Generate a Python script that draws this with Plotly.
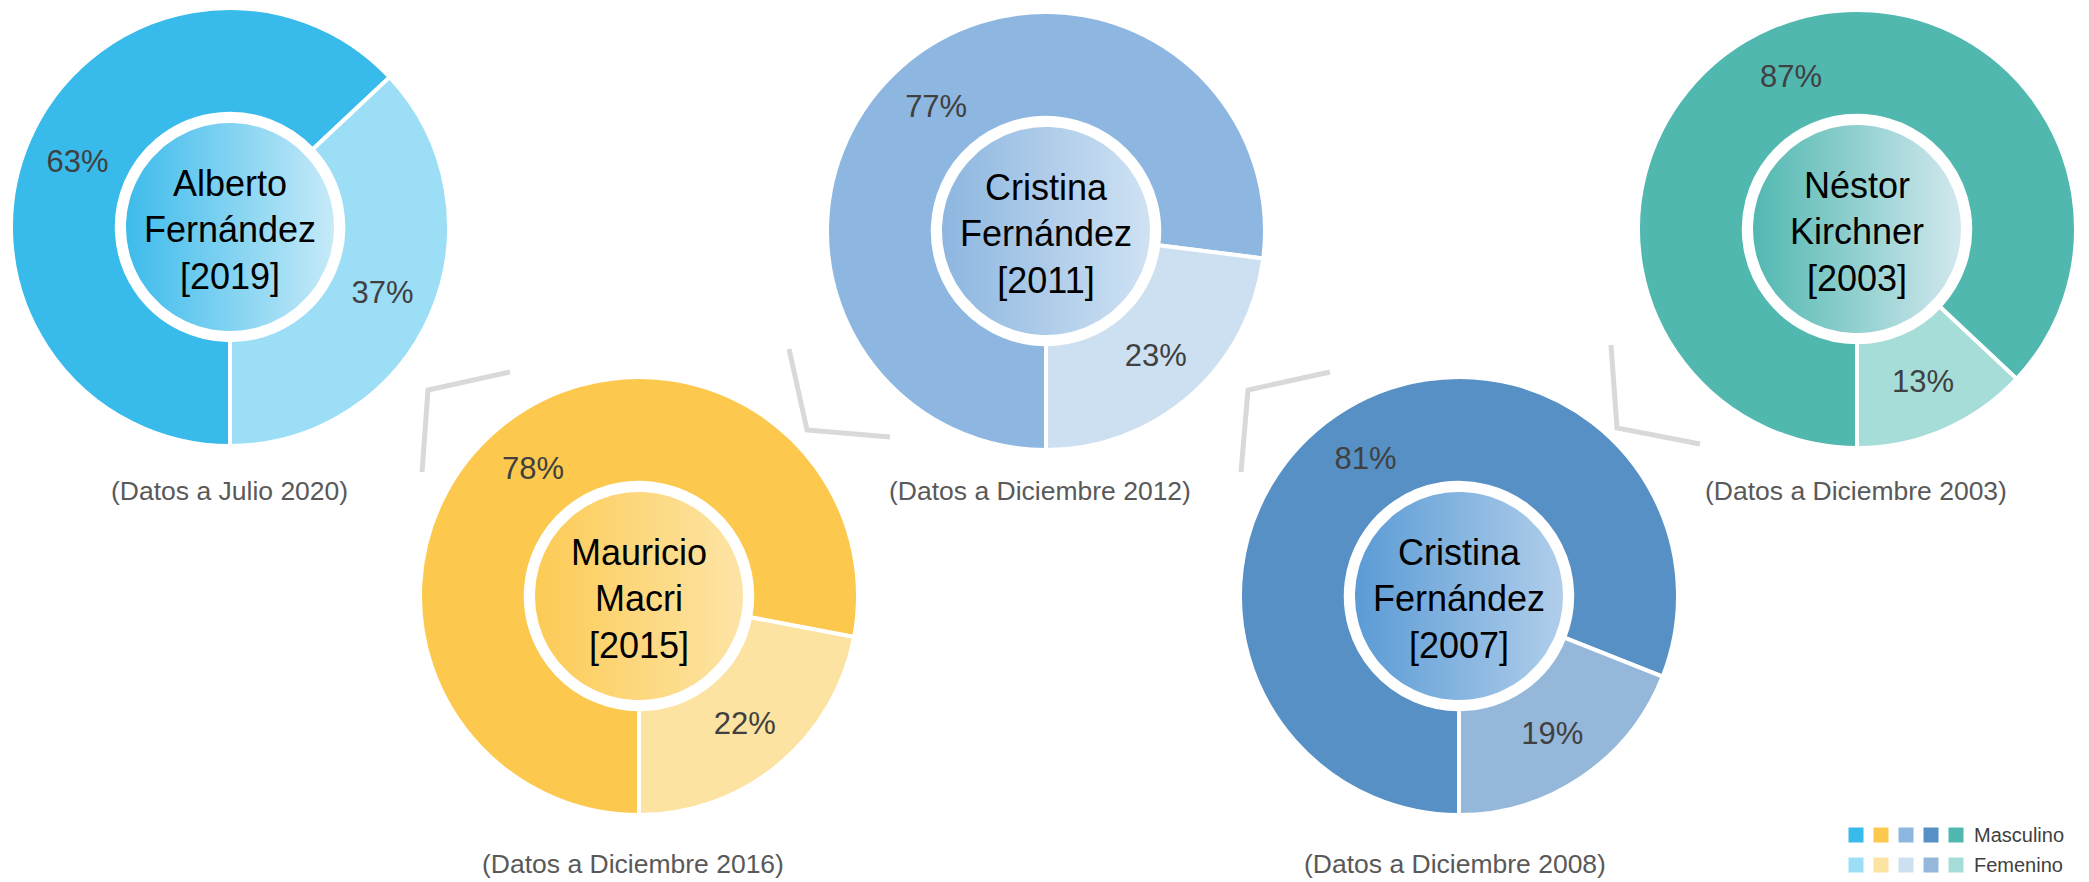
import plotly.graph_objects as go
import numpy as np

# ---------------- data ----------------
presidents = ["Alberto<br>Fernández", "Mauricio<br>Macri", "Cristina<br>Fernández",
              "Cristina<br>Fernández", "Néstor<br>Kirchner"]
years = ["2019", "2015", "2011", "2007", "2003"]
masculino = [63, 78, 77, 81, 87]
femenino = [37, 22, 23, 19, 13]
captions = ["(Datos a Julio 2020)", "(Datos a Diciembre 2016)", "(Datos a Diciembre 2012)",
            "(Datos a Diciembre 2008)", "(Datos a Diciembre 2003)"]
series_names = ["Masculino", "Femenino"]

# ---------------- styles / layout ----------------
W, H = 2089, 882
masc_colors = ["#38BAEB", "#FCC94E", "#8DB7E0", "#5690C5", "#51B8B0"]
fem_colors = ["#9DDEF7", "#FDE3A2", "#CDE0F2", "#95B8DA", "#A7DDD8"]
grad_colors = [("#3DBBEB", "#C6EAF8"), ("#FCCB55", "#FDE4A6"), ("#8DB6E0", "#CFE2F3"),
               ("#5B9BD5", "#B0CEEA"), ("#52B8B1", "#D2E8EE")]
centers = [(230, 227), (639, 596), (1046, 231), (1459, 596), (1857, 229)]
caption_pos = [(229, 491), (633, 864), (1040, 491), (1455, 864), (1856, 491)]
R = 219
HOLE = 0.517
R_INNER = 104
FONT = "Liberation Sans, Arial, sans-serif"

fig = go.Figure()

# connector chevrons (decorative)
chevrons = [
    [(510, 372), (428, 390), (422, 472)],
    [(789, 349), (807, 430), (890, 437)],
    [(1330, 372), (1248, 390), (1241, 472)],
    [(1611, 345), (1617, 428), (1700, 444)],
]
for ch in chevrons:
    fig.add_trace(go.Scatter(x=[p[0] for p in ch], y=[p[1] for p in ch], mode="lines",
                             line=dict(color="#D9D9D9", width=5), hoverinfo="skip",
                             showlegend=False, xaxis="x", yaxis="y"))

# gradient inner circles
theta = np.linspace(0, 2 * np.pi, 181)
for (cx, cy), (c0, c1) in zip(centers, grad_colors):
    fig.add_trace(go.Scatter(
        x=cx + R_INNER * np.cos(theta), y=cy + R_INNER * np.sin(theta),
        mode="lines", line=dict(width=0, color="rgba(0,0,0,0)"), fill="toself",
        fillgradient=dict(type="horizontal", colorscale=[[0, c0], [1, c1]]),
        hoverinfo="skip", showlegend=False, xaxis="x", yaxis="y"))

# donuts
for i in range(len(presidents)):
    cx, cy = centers[i]
    fig.add_trace(go.Pie(
        labels=series_names, values=[masculino[i], femenino[i]],
        sort=False, direction="clockwise", rotation=180, hole=HOLE,
        marker=dict(colors=[masc_colors[i], fem_colors[i]], line=dict(color="white", width=4)),
        texttemplate="%{value}%", textposition="inside", insidetextorientation="horizontal",
        textfont=dict(family=FONT, size=31, color="#404040"),
        title=dict(text=f"{presidents[i]}<br>[{years[i]}]", position="middle center",
                   font=dict(family=FONT, size=36, color="#000000")),
        domain=dict(x=[(cx - R) / W, (cx + R) / W], y=[(H - cy - R) / H, (H - cy + R) / H]),
        showlegend=False, hoverinfo="label+value",
    ))

annotations = []
for (x, y), txt in zip(caption_pos, captions):
    annotations.append(dict(x=x, y=y, xref="x", yref="y", text=txt, showarrow=False,
                            xanchor="center", yanchor="middle",
                            font=dict(family=FONT, size=26.5, color="#595959")))

# legend (custom)
leg_x = [1856, 1881, 1906, 1931, 1956]
leg_y = [835, 865]
for row, (cols, name) in enumerate([(masc_colors, series_names[0]), (fem_colors, series_names[1])]):
    fig.add_trace(go.Scatter(x=leg_x, y=[leg_y[row]] * len(leg_x), mode="markers",
                             marker=dict(symbol="square", size=15, color=cols, line=dict(width=0)),
                             hoverinfo="skip", showlegend=False, xaxis="x", yaxis="y"))
    annotations.append(dict(x=1972, y=leg_y[row], xref="x", yref="y", text=name, showarrow=False,
                            xanchor="left", yanchor="middle",
                            font=dict(family=FONT, size=20, color="#404040")))

fig.update_layout(
    width=W, height=H, margin=dict(l=0, r=0, t=0, b=0),
    paper_bgcolor="white", plot_bgcolor="white",
    xaxis=dict(range=[0, W], visible=False, domain=[0, 1], fixedrange=True),
    yaxis=dict(range=[H, 0], visible=False, domain=[0, 1], fixedrange=True),
    annotations=annotations, showlegend=False,
)

fig.write_html("out.html", config={"displayModeBar": False},
               post_script="document.body.style.margin='0';document.body.style.overflow='hidden';")
